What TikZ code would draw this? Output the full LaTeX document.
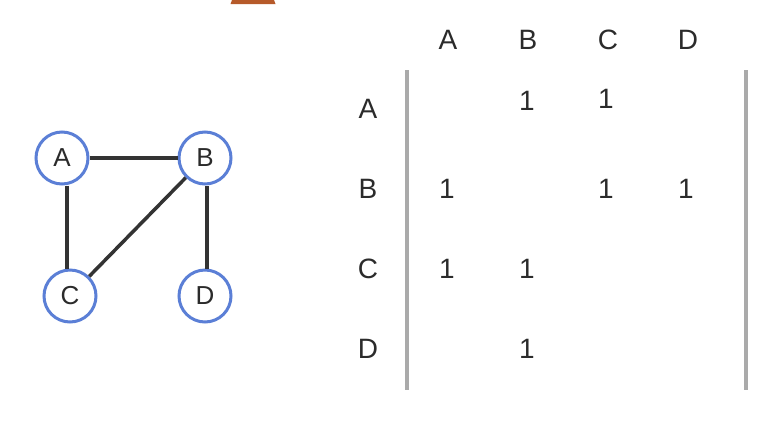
\documentclass[tikz,border=0pt]{standalone}
\usepackage{fontspec}
\setmainfont{Liberation Sans}
\definecolor{nodeblue}{HTML}{5B7FD6}
\definecolor{edgegray}{HTML}{333333}
\definecolor{textgray}{HTML}{2B2B2B}
\definecolor{bargray}{HTML}{AAAAAA}
\definecolor{rust}{HTML}{B65A2A}
\begin{document}
\begin{tikzpicture}[x=1pt,y=-1pt,
  vertex/.style={circle,draw=nodeblue,line width=3pt,fill=white,minimum size=52pt,inner sep=0pt,
    font=\fontsize{26}{26}\selectfont,text=textgray},
  link/.style={draw=edgegray,line width=3.5pt},
  lbl/.style={inner sep=0pt,font=\fontsize{28}{28}\selectfont,text=textgray},
  bracket/.style={draw=bargray,line width=3.5pt}]
\useasboundingbox (0,0) rectangle (772,424);
\fill[rust] (232,0) -- (274,0) -- (275.5,4) -- (230.5,4) -- cycle;
% graph
\node[vertex] (A) at (62,158) {A};
\node[vertex] (B) at (205,158) {B};
\node[vertex] (C) at (70,296) {C};
\node[vertex] (D) at (205,296) {D};
\draw[link] (A) -- (B);
\draw[link] ([xshift=5pt]A.south) -- ([xshift=-3pt]C.north);
\draw[link] (B) -- (C);
\draw[link] ([xshift=2pt]B.south) -- ([xshift=2pt]D.north);
% matrix headers
\node[lbl] (hA) at (448,40) {A};
\node[lbl] (hB) at (528,40) {B};
\node[lbl] (hC) at (608,40) {C};
\node[lbl] (hD) at (688,40) {D};
\node[lbl] (rA) at (368,109) {A};
\node[lbl] (rB) at (368,189) {B};
\node[lbl] (rC) at (368,269) {C};
\node[lbl] (rD) at (368,349) {D};
% entries
\node[lbl] (eAB) at (527,101) {1};
\node[lbl] (eAC) at (606,99) {1};
\node[lbl] (eBA) at (447,189) {1};
\node[lbl] (eBC) at (606,189) {1};
\node[lbl] (eBD) at (686,189) {1};
\node[lbl] (eCA) at (447,269) {1};
\node[lbl] (eCB) at (527,269) {1};
\node[lbl] (eDB) at (527,349) {1};
% brackets
\coordinate (lt) at (407,70);
\coordinate (lb) at (407,390);
\coordinate (rt) at (746,70);
\coordinate (rb) at (746,390);
\draw[bracket] (lt) -- (lb);
\draw[bracket] (rt) -- (rb);
\end{tikzpicture}
\end{document}
